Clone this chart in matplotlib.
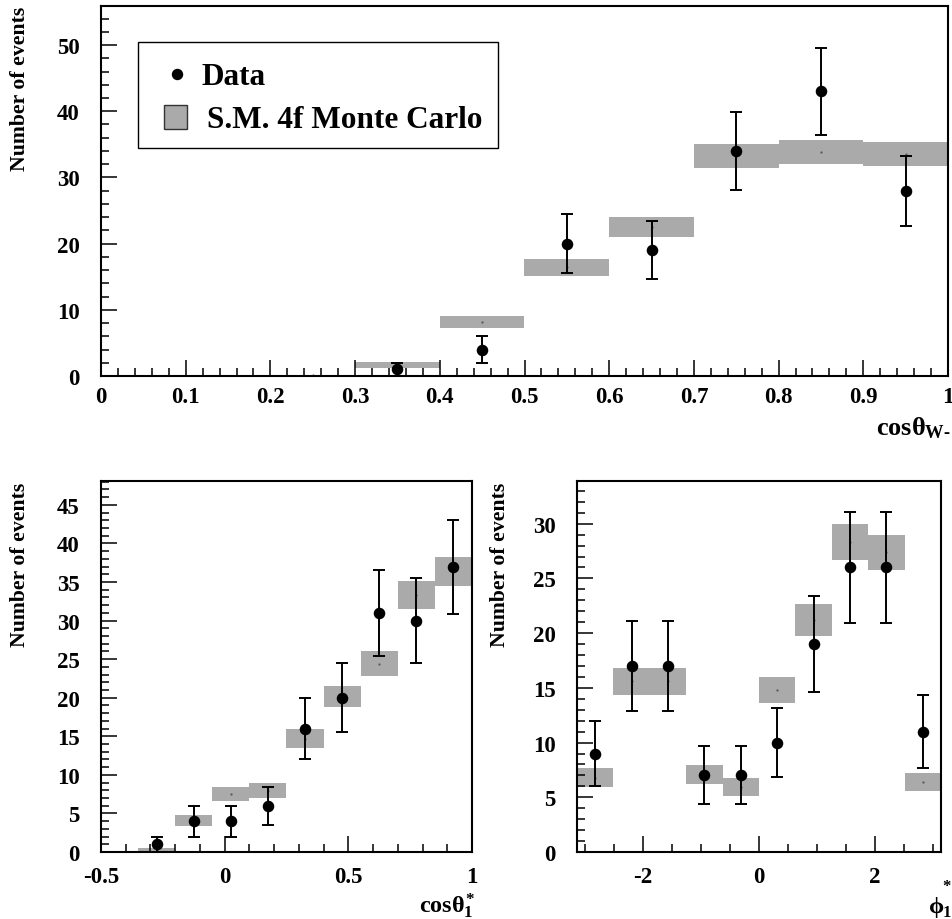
import matplotlib
matplotlib.use("Agg")
import matplotlib.pyplot as plt
from matplotlib.ticker import MultipleLocator, FuncFormatter
from matplotlib.patches import Rectangle

# ---- cos(theta_W-) distribution ----
cosw_data_x = [0.35, 0.45, 0.55, 0.65, 0.75, 0.85, 0.95]
cosw_data_n = [1, 4, 20, 19, 34, 43, 28]
cosw_data_err = [1.0, 2.0, 4.47, 4.36, 5.83, 6.56, 5.29]
cosw_mc_x = [0.25, 0.35, 0.45, 0.55, 0.65, 0.75, 0.85, 0.95]
cosw_mc = [0.1, 1.6, 8.15, 16.4, 22.5, 33.3, 33.85, 33.5]
cosw_mc_err = [0.1, 0.45, 0.95, 1.3, 1.5, 1.8, 1.85, 1.8]
cosw_binw = 0.1

# ---- cos(theta*_1) distribution ----
cth_x = [-0.275, -0.125, 0.025, 0.175, 0.325, 0.475, 0.625, 0.775, 0.925]
cth_data_n = [1, 4, 4, 6, 16, 20, 31, 30, 37]
cth_data_err = [1.0, 2.0, 2.0, 2.45, 4.0, 4.47, 5.57, 5.48, 6.08]
cth_mc = [0.2, 4.1, 7.5, 7.95, 14.7, 20.15, 24.4, 33.35, 36.4]
cth_mc_err = [0.28, 0.71, 0.87, 0.95, 1.2, 1.4, 1.6, 1.8, 1.9]
cth_binw = 0.15

# ---- phi*_1 distribution ----
phi_x = [-2.827, -2.199, -1.571, -0.942, -0.314, 0.314, 0.942, 1.571, 2.199, 2.827]
phi_data_n = [9, 17, 17, 7, 7, 10, 19, 26, 26, 11]
phi_data_err = [3.0, 4.12, 4.12, 2.65, 2.65, 3.16, 4.36, 5.10, 5.10, 3.32]
phi_mc = [6.8, 15.6, 15.6, 7.06, 5.95, 14.8, 21.2, 28.35, 27.4, 6.4]
phi_mc_err = [0.83, 1.25, 1.25, 0.87, 0.8, 1.2, 1.43, 1.65, 1.6, 0.8]
phi_binw = 0.6283

MC_COLOR = "#aaaaaa"
SERIF = ["Liberation Serif", "DejaVu Serif"]

plt.rcParams["font.family"] = SERIF
plt.rcParams["font.weight"] = "bold"
plt.rcParams["mathtext.fontset"] = "custom"
plt.rcParams["mathtext.rm"] = "Liberation Serif:bold"
plt.rcParams["mathtext.it"] = "Liberation Serif:bold"
plt.rcParams["mathtext.bf"] = "Liberation Serif:bold"

W, H = 953, 920
fig = plt.figure(figsize=(W / 100, H / 100), dpi=100)


def px_axes(l, t, r, b):
    return fig.add_axes([l / W, 1 - b / H, (r - l) / W, (b - t) / H])


def fx(px):
    return px / W


def fy(py):
    return 1 - py / H


fmt = FuncFormatter(lambda v, p: f"{v:g}")


def style(ax, xmaj, xmin, ymaj, ymin, xpad):
    for s in ax.spines.values():
        s.set_linewidth(1.5)
        s.set_zorder(5)
    ax.xaxis.set_major_locator(MultipleLocator(xmaj))
    ax.xaxis.set_minor_locator(MultipleLocator(xmin))
    ax.yaxis.set_major_locator(MultipleLocator(ymaj))
    ax.yaxis.set_minor_locator(MultipleLocator(ymin))
    ax.xaxis.set_major_formatter(fmt)
    ax.yaxis.set_major_formatter(fmt)
    ax.tick_params(which="both", direction="in", top=False, right=False,
                   width=1.1, labelsize=16.5)
    ax.tick_params(which="major", length=11.5)
    ax.tick_params(which="minor", length=5.5)
    ax.tick_params(axis="y", which="major", pad=15.5)
    ax.tick_params(axis="x", which="major", pad=xpad)
    for lab in ax.get_xticklabels() + ax.get_yticklabels():
        lab.set_fontweight("bold")


def draw(ax, mc_x, mc, mc_err, binw, dx, dn, derr):
    lo = [m - e for m, e in zip(mc, mc_err)]
    hi = [2 * e for e in mc_err]
    ax.bar(mc_x, hi, bottom=lo, width=binw, color=MC_COLOR, linewidth=0,
           zorder=1)
    ax.plot(mc_x, mc, linestyle="none", marker=".", ms=1.2, color="#555555",
            zorder=2)
    ax.errorbar(dx, dn, yerr=derr, fmt="o", color="black", ms=7.3,
                elinewidth=1.4, capsize=4, capthick=1.4, zorder=3,
                clip_on=False)


# Top panel
ax1 = px_axes(101, 7, 948, 377)
draw(ax1, cosw_mc_x, cosw_mc, cosw_mc_err, cosw_binw,
     cosw_data_x, cosw_data_n, cosw_data_err)
ax1.set_xlim(0, 1)
ax1.set_ylim(0, 55.9)
style(ax1, 0.1, 0.02, 10, 2, 7.0)

# Legend box
ax1.add_patch(Rectangle((0.0433, 0.6162), 0.4257, 0.2857, transform=ax1.transAxes,
                        facecolor="white", edgecolor="black", linewidth=1.0,
                        zorder=6))
ax1.plot([0.0894], [0.8162], "o", color="black", ms=7.2,
         transform=ax1.transAxes, zorder=7, clip_on=False)
ax1.text(0.1189, 0.7892, "Data", transform=ax1.transAxes, fontsize=22.5,
         fontweight="bold", ha="left", va="baseline", zorder=7)
ax1.add_patch(Rectangle((0.0747, 0.6676), 0.0264, 0.0648, transform=ax1.transAxes,
                        facecolor=MC_COLOR, edgecolor="#333333", linewidth=1.0,
                        zorder=7))
ax1.text(0.1255, 0.6722, "S.M. 4f Monte Carlo", transform=ax1.transAxes,
         fontsize=22.5, fontweight="bold", ha="left", va="baseline", zorder=7)

# Bottom-left panel
ax2 = px_axes(101, 482, 472, 853)
draw(ax2, cth_x, cth_mc, cth_mc_err, cth_binw, cth_x, cth_data_n, cth_data_err)
ax2.set_xlim(-0.5, 1.0)
ax2.set_ylim(0, 48.1)
style(ax2, 0.5, 0.1, 5, 1, 10.0)

# Bottom-right panel
ax3 = px_axes(577, 482, 941, 853)
draw(ax3, phi_x, phi_mc, phi_mc_err, phi_binw, phi_x, phi_data_n, phi_data_err)
ax3.set_xlim(-3.1416, 3.1416)
ax3.set_ylim(0, 33.9)
style(ax3, 2, 0.5, 5, 1, 10.0)

# Axis titles
ylab_kw = dict(rotation=90, ha="center", va="top", fontsize=15.7,
               fontweight="bold")
fig.text(fx(20), fy(7), "Number of events", **ylab_kw)
fig.text(fx(20.5), fy(483), "Number of events", **ylab_kw)
fig.text(fx(500), fy(483), "Number of events", **ylab_kw)

fig.text(fx(951), fy(435), r"$\mathrm{cos}\theta_{\mathrm{W}\text{-}}$",
         ha="right", va="baseline", fontsize=19)
fig.text(fx(419), fy(913), r"$\mathrm{cos}\theta^{*}_{1}$",
         ha="left", va="baseline", fontsize=17.5)

# phi*_1 title: straight-stroke phi with star and index
fig.text(fx(929), fy(913), "\u03d5", family=SERIF, fontweight="bold",
         ha="left", va="baseline", fontsize=17.5)
fig.text(fx(951), fy(917), "1", family=SERIF, fontweight="bold",
         ha="right", va="baseline", fontsize=12)
fig.text(fx(951), fy(891), "*", family=SERIF, fontweight="bold",
         ha="right", va="baseline", fontsize=12)

fig.savefig("out.png", dpi=100)
